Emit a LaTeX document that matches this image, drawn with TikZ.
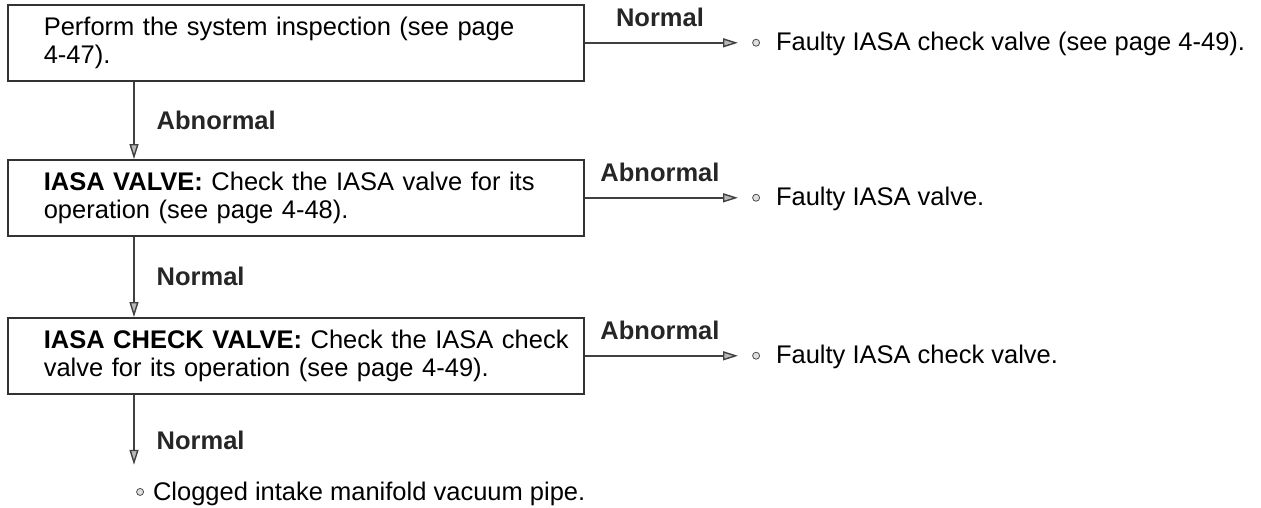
\documentclass[tikz,border=0pt]{standalone}
\usepackage{fontspec}
\setmainfont{Liberation Sans}
\usetikzlibrary{arrows.meta,positioning}
\newcommand{\resdot}{\tikz[baseline=-0.6ex]\draw[black!70,fill=gray!25,line width=0.8pt] (0,0) circle (3.5pt);}

\begin{document}
\begin{tikzpicture}[
    x=1pt, y=-1pt,
    box/.style={draw=black!80, line width=1.6pt, anchor=north west, text width=564pt, inner xsep=6pt, inner ysep=0pt, minimum height=76pt, align=left, execute at begin node={\leftskip=30pt\rightskip=0pt plus 1fil}},
    result/.style={anchor=west, inner sep=0pt, text height=22pt, text depth=6pt},
    arr/.style={draw=black!75, line width=1.4pt, -{Triangle[length=15pt,width=9pt,fill=gray!55]}},
    tag/.style={font=\fontsize{25.5}{28}\selectfont\bfseries, text=black!85, inner sep=0pt},
    font=\fontsize{25.5}{28}\selectfont
]
    \useasboundingbox (0,0) rectangle (1261,507);

    % check boxes
    \node[box] (inspect) at (7,4) {Perform the system inspection (see page\\4-47).};
    \node[box] (valve) at (7,159) {\textbf{IASA VALVE:} Check the IASA valve for its\\operation (see page 4-48).};
    \node[box] (check) at (7,317) {\textbf{IASA CHECK VALVE:} Check the IASA check\\valve for its operation (see page 4-49).};

    % results
    \node[result] (res1) at (752,0 |- inspect.east) {\resdot\hspace{16pt}Faulty IASA check valve (see page 4-49).};
    \node[result] (res2) at (752,0 |- valve.east) {\resdot\hspace{16pt}Faulty IASA valve.};
    \node[result] (res3) at (752,0 |- check.east) {\resdot\hspace{16pt}Faulty IASA check valve.};
    \node[result] (res4) at (136,492) {\resdot\hspace{9pt}Clogged intake manifold vacuum pipe.};

    % side arrows
    \draw[arr, shorten >=14pt] (inspect.east) -- (res1.west) node[tag, pos=0.45, above=15pt] {Normal};
    \draw[arr, shorten >=14pt] (valve.east) -- (res2.west) node[tag, pos=0.45, above=15pt] {Abnormal};
    \draw[arr, shorten >=14pt] (check.east) -- (res3.west) node[tag, pos=0.45, above=15pt] {Abnormal};

    % down arrows
    \coordinate (a1) at ([xshift=127pt]inspect.south west);
    \coordinate (a2) at ([xshift=127pt]valve.south west);
    \coordinate (a3) at ([xshift=127pt]check.south west);
    \draw[arr] (a1) -- (a1 |- valve.north) node[tag, midway, right=22pt] {Abnormal};
    \draw[arr] (a2) -- (a2 |- check.north) node[tag, midway, right=22pt] {Normal};
    \draw[arr, shorten >=13pt] (a3) -- (a3 |- res4.north) node[tag, pos=0.55, right=22pt] {Normal};
\end{tikzpicture}
\end{document}
